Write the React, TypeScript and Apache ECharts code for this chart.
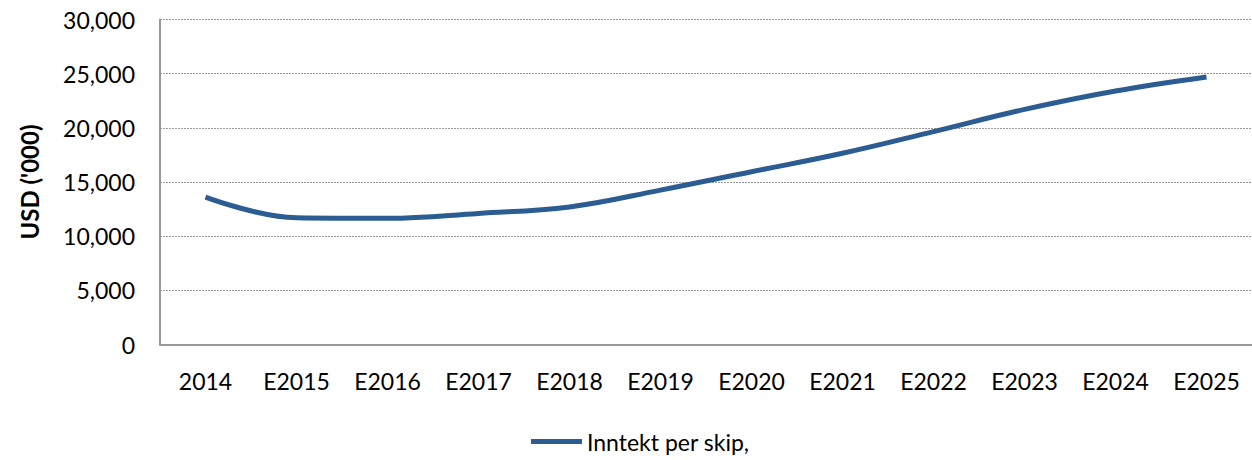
import React, { useEffect, useRef } from "react";
import * as echarts from "echarts";

const categories = [
  "2014", "E2015", "E2016", "E2017", "E2018", "E2019",
  "E2020", "E2021", "E2022", "E2023", "E2024", "E2025",
];

const incomePerShip = [
  13600, 11700, 11650, 12100, 12700, 14250,
  15950, 17650, 19650, 21700, 23400, 24700,
];

const seriesName = "Inntekt per skip,";
const yAxisTitle = "USD ('000)";

const FONT = "Lato, 'Noto Sans', sans-serif";
const LINE_COLOR = "#2B5D92";

export default function App() {
  const ref = useRef<HTMLDivElement>(null);

  useEffect(() => {
    if (!ref.current) return;
    const chart = echarts.init(ref.current, null, { renderer: "svg" });
    chart.setOption({
      animation: false,
      backgroundColor: "#ffffff",
      textStyle: { fontFamily: FONT },
      grid: { left: 160, right: -3, top: 19.5, bottom: 115.5, containLabel: false },
      legend: {
        left: 531,
        top: 430,
        icon: "rect",
        itemWidth: 51,
        itemHeight: 5,
        padding: 0,
        textStyle: { fontFamily: FONT, fontSize: 23, color: "#000" },
        data: [seriesName],
      },
      xAxis: {
        type: "category",
        data: categories,
        boundaryGap: true,
        axisLine: { show: true, lineStyle: { color: "#999999", width: 2 } },
        axisTick: { show: false },
        axisLabel: { margin: 25, fontSize: 23, color: "#000", fontFamily: FONT },
      },
      yAxis: {
        type: "value",
        min: 0,
        max: 30000,
        interval: 5000,
        name: yAxisTitle,
        nameLocation: "middle",
        nameGap: 119,
        nameTextStyle: { fontSize: 24, fontWeight: "bold", color: "#000", fontFamily: FONT },
        axisLine: { show: true, lineStyle: { color: "#999999", width: 2 } },
        axisTick: { show: false },
        axisLabel: {
          margin: 25,
          fontSize: 23,
          color: "#000",
          fontFamily: FONT,
          formatter: (v: number) => v.toLocaleString("en-US"),
        },
        splitLine: { show: true, lineStyle: { color: "#9a9a9a", type: [2, 1], width: 1 } },
      },
      series: [
        {
          name: seriesName,
          type: "line",
          data: incomePerShip,
          smooth: 0.4,
          showSymbol: false,
          symbol: "none",
          lineStyle: { color: LINE_COLOR, width: 5 },
          itemStyle: { color: LINE_COLOR },
        },
      ],
    });
    return () => chart.dispose();
  }, []);

  return (
    <div
      ref={ref}
      style={{ position: "fixed", left: 0, top: 0, width: 1252, height: 460 }}
    />
  );
}
